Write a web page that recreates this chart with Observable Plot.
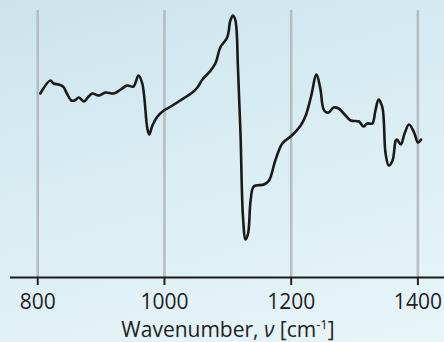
<!DOCTYPE html>
<html><head><meta charset="utf-8">
<script src="https://cdn.jsdelivr.net/npm/d3@7"></script>
<script src="https://cdn.jsdelivr.net/npm/@observablehq/plot@0.6"></script>
<style>
html,body{margin:0;padding:0;}
body{width:444px;height:342px;overflow:hidden;background:linear-gradient(165deg,#cde3ec 0%,#d9edf3 45%,#e8f5f9 100%);}
#chart svg{display:block;}
</style></head><body><div id="chart"></div>
<script>
const wavenumber = [804,820,825,833,840,846,853,858,865,873,879,886,896,907,920,931,941,951,959,965,973,976,981,989,999,1010,1025,1044,1052,1060,1073,1081,1088,1099,1104,1108,1112,1116,1120,1124,1128,1132,1136,1141,1157,1165,1175,1186,1201,1215,1223,1231,1240,1246,1252,1259,1267,1275,1283,1294,1307,1314,1320,1328,1333,1338,1344,1349,1354,1360,1365,1367,1373,1379,1386,1394,1400,1405];
const signal = [184,197,194,193,191,184,177,177,180,176,180,184,182,185,184,188,192,191,202,194,149,143,152,161,167,171,177,185,190,198,207,215,230,240,257,262,257,210,144,60,38,44,77,91,93,97,117,134,142,152,162,180,203,189,167,165,170,169,164,157,156,151,154,154,167,178,170,124,112,117,137,138,133,144,153,145,135,138];
const xTicks = [800,1000,1200,1400];
const labelMain = "Wavenumber, ";
const labelSymbol = "ν";
const labelUnit = "cm";
const labelExp = "-1";

const data = wavenumber.map((w, i) => ({w, s: signal[i]}));

const plot = Plot.plot({
  width: 444, height: 342,
  marginLeft: 10, marginRight: 0, marginTop: 10, marginBottom: 65,
  x: {domain: [757, 1442]},
  y: {domain: [0, 267], axis: null},
  style: {background: "transparent", fontFamily: "'Open Sans', sans-serif", overflow: "visible"},
  marks: [
    Plot.ruleX(xTicks, {stroke: "#b3bdc2", strokeWidth: 2.6}),
    Plot.ruleY([0], {stroke: "#1a1a1a", strokeWidth: 2}),
    Plot.axisX({ticks: xTicks, tickFormat: d3.format("d"), tickSize: 8, tickPadding: 9, fontSize: 21, color: "#222", strokeWidth: 2, strokeOpacity: 1, label: null}),
    Plot.line(data, {x: "w", y: "s", curve: "catmull-rom", stroke: "#1a1a1a", strokeWidth: 2.6})
  ]
});
document.getElementById("chart").append(plot);

const svg = d3.select(plot);
const t = svg.append("text")
  .attr("x", 228).attr("y", 337)
  .attr("text-anchor", "middle")
  .attr("font-family", "'Open Sans', sans-serif")
  .attr("font-size", 21)
  .attr("fill", "#222");
t.append("tspan").text(labelMain);
t.append("tspan").attr("font-style", "italic").text(labelSymbol);
t.append("tspan").text(" [" + labelUnit);
t.append("tspan").attr("font-size", 13).attr("dy", -8).text(labelExp);
t.append("tspan").attr("dy", 8).text("]");
</script>
</body></html>
